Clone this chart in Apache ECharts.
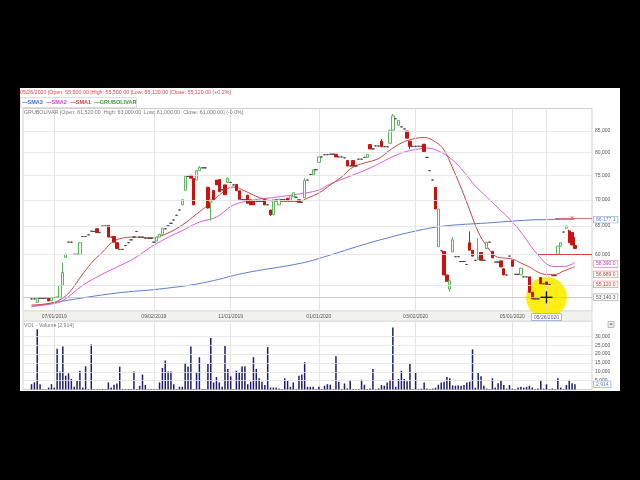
<!DOCTYPE html>
<html><head><meta charset="utf-8">
<script src="https://cdn.jsdelivr.net/npm/echarts@6/dist/echarts.min.js"></script>
<style>html,body{margin:0;padding:0;background:#000}#c{width:640px;height:480px}</style>
</head><body><div id="c"></div>
<script>
// ---------- data ----------
const dates = [
'06/18/2019','06/19/2019','06/20/2019','06/21/2019','06/25/2019','06/26/2019','06/27/2019','06/28/2019',
'07/01/2019',
'07/02/2019','07/03/2019','07/08/2019','07/09/2019','07/10/2019','07/11/2019','07/15/2019','07/16/2019','07/17/2019','07/18/2019','07/22/2019','07/23/2019','07/25/2019','07/29/2019','07/30/2019','07/31/2019',
'08/01/2019','08/05/2019','08/06/2019','08/07/2019','08/08/2019','08/12/2019','08/13/2019','08/14/2019','08/15/2019','08/19/2019','08/20/2019','08/21/2019','08/22/2019','08/26/2019','08/27/2019','08/28/2019','08/29/2019','08/30/2019',
'09/02/2019',
'09/03/2019','09/05/2019','09/09/2019','09/11/2019','09/13/2019','09/17/2019','09/19/2019','09/23/2019','09/25/2019','09/27/2019','09/30/2019',
'10/01/2019','10/03/2019','10/07/2019','10/09/2019','10/11/2019','10/15/2019','10/17/2019','10/21/2019','10/22/2019','10/23/2019','10/24/2019','10/25/2019','10/28/2019','10/29/2019','10/30/2019',
'11/01/2019',
'11/04/2019','11/05/2019','11/06/2019','11/07/2019','11/08/2019','11/11/2019','11/12/2019','11/13/2019','11/14/2019','11/15/2019','11/18/2019','11/19/2019','11/20/2019','11/21/2019','11/22/2019','11/25/2019','11/26/2019','11/27/2019',
'12/02/2019','12/03/2019','12/05/2019','12/09/2019','12/10/2019','12/12/2019','12/16/2019','12/17/2019','12/19/2019','12/20/2019','12/26/2019','12/30/2019',
'01/01/2020',
'01/02/2020','01/03/2020','01/06/2020','01/07/2020','01/08/2020','01/09/2020','01/13/2020','01/14/2020','01/15/2020','01/16/2020','01/20/2020','01/21/2020','01/22/2020','01/23/2020','01/27/2020','01/28/2020','01/29/2020','01/30/2020',
'02/03/2020','02/04/2020','02/05/2020','02/06/2020','02/07/2020','02/10/2020','02/11/2020','02/12/2020','02/13/2020','02/14/2020','02/17/2020','02/18/2020','02/19/2020','02/20/2020','02/26/2020',
'03/02/2020',
'03/03/2020','03/04/2020','03/05/2020','03/06/2020','03/09/2020','03/10/2020','03/11/2020','03/12/2020','03/13/2020','03/16/2020','03/17/2020','03/18/2020','03/19/2020','03/20/2020','03/23/2020','03/24/2020','03/25/2020','03/26/2020','03/27/2020','03/30/2020',
'04/01/2020','04/03/2020','04/07/2020','04/13/2020','04/15/2020','04/17/2020','04/20/2020','04/22/2020','04/24/2020','04/27/2020','04/28/2020','04/29/2020','04/30/2020',
'05/01/2020',
'05/04/2020','05/05/2020','05/07/2020','05/08/2020','05/11/2020','05/12/2020','05/14/2020','05/15/2020','05/18/2020','05/20/2020','05/22/2020',
'05/26/2020',
'05/27/2020','05/28/2020','05/29/2020','06/01/2020','06/02/2020','06/03/2020','06/04/2020','06/05/2020','06/08/2020','06/09/2020'
];

// each bar: a single number = flat bar (open=close=low=high), or [open, close, low, high]
const candles = [
52900,52900,[52400,53000,52300,53100],53000,53000,53000,[53000,52600,52600,53000],[52600,53100,52600,53100],53100,[53100,53200,53100,53200],
[53150,54960,53100,55000],[55000,57000,55000,58600],[59500,60000,59400,60100],62100,62100,60000,60000,[60000,62000,60000,62100],63100,63100,
63400,64050,64000,[64500,63800,63800,64500],63800,65000,65000,[65100,63000,63000,65100],63000,[63100,62100,62100,63100],
[62000,61000,61000,62000],60850,60850,61500,62000,62500,63000,64000,63000,63000,
62800,62800,62800,62100,[62300,63000,62300,63000],[63000,63500,63000,63500],[63500,64600,63500,64600],64500,65000,65500,
66100,67000,68000,[69000,70000,69000,70000],[71900,74800,71900,75000],74800,[75000,74400,74400,75000],[74300,69000,69000,74300],[74000,76000,74000,76000],[76000,76700,76000,77000],
76600,76600,[72500,68400,68300,72600],[69500,70000,66000,70000],[71900,70000,70000,71900],[74000,73000,73000,74000],[74100,71600,71600,74200],72000,[73000,71000,71000,73000],[73500,74400,73500,74400],
73500,73000,[73100,71800,71800,73100],[71800,70100,70100,71800],70000,70000,[70900,69300,69300,70900],[70000,69000,69000,70000],[69800,69000,69000,69800],69700,
69700,69700,[70000,69000,69000,70000],69000,[68000,67100,66900,68000],[67100,70000,67000,70000],70000,[69000,70100,69000,70100],70000,70000,
[70300,69900,69900,70300],[69900,70800,69900,70800],[70600,71400,70600,71400],70500,[70000,69500,69500,70000],69500,[70400,73900,70400,74400],74000,75200,[75100,76200,75100,76200],
76200,[77800,79000,77800,79000],79000,79500,79500,79600,79600,[79600,79000,79000,79600],79000,79000,
78800,[78200,77000,77000,78200],77000,[78200,77000,77000,78200],77000,78500,78500,78900,[78900,79600,78900,79600],[81800,80800,80800,81800],
80800,81500,81500,[82600,81300,81300,83100],81300,81300,[82100,85200,82100,85200],[85200,88700,85200,89200],88000,[86400,87600,86400,87600],
86000,85500,[85000,83300,83300,85000],[82600,81400,80800,82600],81400,81400,81400,81400,[81900,80200,80200,81900],78900,
76000,74000,[72500,68200,68200,72500],[61300,68200,61300,68200],60600,[60500,56600,56600,60500],[56600,55600,55600,56600],[54400,55700,54000,55700],[60400,62500,60400,63000],59600,
59600,58800,58800,58300,[62000,60700,60700,64000],[60700,59700,59700,60700],59000,[59200,59500,59000,62800],[60300,59000,59000,60300],59000,
[61000,62100,61000,62100],62100,[60500,59400,59400,60500],58700,58700,[58900,57900,57900,58900],[57600,56600,56600,57600],56600,59700,[59000,58000,58000,59000],
56700,56700,[56600,57700,56600,57700],56300,56300,[56300,53900,53900,56300],[53900,52900,52900,53900],52900,52900,[56200,55200,55200,56200],
55200,[55500,55120,55120,55500],55120,56500,56500,[60000,61400,60000,61400],[61400,62000,61400,62000],63900,[64600,65000,64600,65000],[64100,62000,62000,64300],
[63800,61600,61600,63800],[61520,61000,61000,63000]
];

const volumes = [
3000,4000,34000,3000,300,200,1100,3000,1100,22900,
10200,24300,7800,9100,5900,1500,4900,10600,1100,13100,
300,25400,300,300,300,300,300,4000,1100,2700,
3400,12900,300,300,300,300,10200,300,2100,8400,
2500,300,300,300,300,4000,12100,16300,10200,10200,
3000,300,1500,1500,15000,12900,24300,300,9700,18200,
300,300,14400,29000,4000,7000,
4000,1500,24500,11600,7400,300,10600,9700,12900,13100,
3000,4400,18200,11600,6300,4400,2500,23900,1100,1100,
1100,600,300,6300,4900,1500,4000,300,7800,8400,
15400,1500,1500,1500,300,1500,300,2100,3000,2700,
300,18800,4400,300,3400,600,4900,300,300,300,
5500,2700,300,600,11600,300,600,2500,2100,4000,
5500,34900,1500,5900,10600,5900,4600,14400,300,
9300,300,500,4000,500,300,500,1000,2700,4000,
4400,7000,6300,2300,2100,2300,2100,2500,4000,4400,
22600,1000,9300,7400,2100,500,300,6300,1100,3500,
5100,2500,500,2500,500,300,1100,1500,1100,1500,
2100,1100,300,500,5100,500,2914,300,500,300,
6400,1100,300,2500,5100,3500,3000
];

// moving averages read at sample bars: [barIndex, value]
const sma1Pts = [[0,52000],[7,52290],[11,53030],[14,54250],[18,56760],[22,59040],[25,60390],[28,61950],[31,62700],[36,62990],[42,62830],[47,63500],[53,65180],[58,67240],[62,68970],[65,70440],[69,72250],[71,72570],[75,71750],[80,70440],[85,69750],[90,69650],[94,69650],[97,70340],[101,71350],[105,72980],[109,74640],[113,76780],[117,77660],[122,78650],[126,80550],[130,82170],[134,83100],[138,83450],[142,82400],[145,80550],[148,76570],[151,72360],[154,68000],[157,63900],[160,61420],[163,59710],[166,59380],[169,59200],[172,58540],[175,57880],[178,57070],[181,56689],[184,56690],[187,57240],[191,57960]];
const sma2Pts = [[0,51850],[7,52140],[11,52660],[18,54960],[25,56760],[30,57880],[36,59290],[42,61250],[47,62700],[53,64170],[59,65730],[65,66650],[71,68970],[78,69950],[85,70440],[94,71150],[101,71950],[105,73200],[112,74840],[119,76570],[126,78760],[131,80100],[136,80780],[139,81010],[143,80320],[148,78320],[152,75700],[156,72770],[160,70540],[164,68380],[168,66290],[172,63900],[176,61080],[179,59380],[181,58390],[184,57960],[187,57960],[191,58620]];
const sma3Pts = [[0,51700],[10,52500],[30,53790],[45,54400],[60,55330],[75,56920],[95,58540],[105,59880],[115,61420],[125,62830],[135,64080],[145,64990],[160,65550],[175,66100],[181,66177.1],[191,66250]];

const tickLabels = ['07/01/2019','09/02/2019','11/01/2019','01/01/2020','03/02/2020','05/01/2020','05/26/2020'];
const priceTicks = [55000,60000,65000,70000,75000,80000,85000];
const volTicks = [5000,10000,15000,20000,25000,30000];

// ---------- build ----------
const FF = '"Liberation Sans", Arial, sans-serif';
const PADL = 3, PADR = 6;
const cats = [];
for (let i = 0; i < PADL; i++) cats.push('padL' + i);
dates.forEach(d => cats.push(d));
for (let i = 0; i < PADR; i++) cats.push('padR' + i);
const ci = b => b + PADL;
const ohlc = candles.map(c => typeof c === 'number' ? [c, c, c, c] : c);
const candleData = cats.map((_, i) => { const b = i - PADL; return (b >= 0 && b < ohlc.length) ? ohlc[b] : ['-','-','-','-']; });
const volData = cats.map((_, i) => { const b = i - PADL; return (b >= 0 && b < volumes.length) ? volumes[b] : '-'; });
const tickIdx = new Set(tickLabels.map(t => cats.indexOf(t)));
const fmt = v => v.toLocaleString('en-US');
const crossDate = '05/26/2020';
const crossIdx = cats.indexOf(crossDate);
const CLEAR = 'rgba(255,255,255,0)';

const tag = (v, text, color, border) => ({
  yAxis: v, lineStyle: {color: CLEAR, width: 0.1},
  label: {show: true, position: 'end', distance: 2, formatter: text, color: color, fontSize: 5, fontFamily: FF,
          backgroundColor: '#fff', borderColor: border, borderWidth: 0.7, padding: [1, 2, 0, 2], opacity: 1}
});

const priceGrid = priceTicks.map(v => ({
  yAxis: v,
  label: {show: v !== 55000, position: 'end', distance: 3, formatter: fmt(v), color: '#555', fontSize: 5, fontFamily: FF}
}));

const option = {
  backgroundColor: '#fff',
  animation: false,
  textStyle: {fontFamily: FF},
  grid: [
    {left: 23, right: 48, top: 108.5, height: 202.5, show: true, backgroundColor: '#fff', borderColor: '#c4c4c4', borderWidth: 0.8},
    {left: 23, right: 48, top: 321, height: 68.5, show: true, backgroundColor: '#fff', borderColor: '#c4c4c4', borderWidth: 0.8}
  ],
  xAxis: [
    {type: 'category', gridIndex: 0, data: cats, boundaryGap: false, z: 3,
     axisLine: {show: false}, axisTick: {show: false},
     axisLabel: {interval: (i) => tickIdx.has(i), margin: 3, fontSize: 5, color: '#555',
       formatter: v => v === crossDate ? '{hl|' + v + '}' : v,
       rich: {hl: {fontSize: 5, color: '#557', backgroundColor: '#fff', borderColor: '#8fa8cc', borderWidth: 0.7, padding: [1, 2, 0, 2]}}},
     splitLine: {show: true, interval: (i) => tickIdx.has(i), lineStyle: {color: '#dcdcdc', width: 0.8}}},
    {type: 'category', gridIndex: 1, data: cats, boundaryGap: false,
     axisLine: {show: false}, axisTick: {show: false}, axisLabel: {show: false},
     splitLine: {show: true, interval: (i) => tickIdx.has(i), lineStyle: {color: '#dcdcdc', width: 0.8}}}
  ],
  yAxis: [
    {type: 'log', gridIndex: 0, position: 'right', min: 51125, max: 90580,
     axisLine: {show: false}, axisTick: {show: false}, axisLabel: {show: false}, splitLine: {show: false}},
    {type: 'value', gridIndex: 1, position: 'right', min: 0, max: 38600,
     axisLine: {show: false}, axisTick: {show: false}, axisLabel: {show: false}, splitLine: {show: false}}
  ],
  series: [
    {name: 'grid', type: 'line', xAxisIndex: 0, yAxisIndex: 0, data: [], z: 1, silent: true,
     markLine: {symbol: ['none', 'none'], silent: true, animation: false,
       lineStyle: {color: '#e2e2e2', width: 0.8, type: 'solid'},
       data: priceGrid.concat([
         {yAxis: 53140.3, lineStyle: {color: '#c0c0c0', width: 0.8, type: 'solid'},
          label: {show: true, position: 'end', distance: 2, formatter: '53,140.3', color: '#555', fontSize: 5, fontFamily: FF,
                  backgroundColor: '#fff', borderColor: '#aaa', borderWidth: 0.7, padding: [1, 2, 0, 2]}}
       ])}},
    {name: 'tags', type: 'line', xAxisIndex: 0, yAxisIndex: 0, data: [], z: 4, silent: true,
     markLine: {symbol: ['none', 'none'], silent: true, animation: false,
       lineStyle: {color: CLEAR, width: 0.1, type: 'solid'},
       data: [
         tag(66177.1, '66,177.1', '#5577bb', '#8fa8dd'),
         tag(58390, '58,390.0', '#b040b0', '#d88ad8'),
         tag(56689, '56,689.0', '#c03c3c', '#e08a8a'),
         tag(55120, '55,120.0', '#c03c3c', '#e08a8a')
       ]}},
    {name: 'SMA3', type: 'line', xAxisIndex: 0, yAxisIndex: 0, data: sma3Pts.map(p => [ci(p[0]), p[1]]),
     showSymbol: false, smooth: 0.4, lineStyle: {color: '#5b7fd0', width: 1}, itemStyle: {color: '#5b7fd0'}, z: 2},
    {name: 'SMA2', type: 'line', xAxisIndex: 0, yAxisIndex: 0, data: sma2Pts.map(p => [ci(p[0]), p[1]]),
     showSymbol: false, smooth: 0.4, lineStyle: {color: '#dd5cdd', width: 1}, itemStyle: {color: '#dd5cdd'}, z: 2},
    {name: 'SMA1', type: 'line', xAxisIndex: 0, yAxisIndex: 0, data: sma1Pts.map(p => [ci(p[0]), p[1]]),
     showSymbol: false, smooth: 0.4, lineStyle: {color: '#c84848', width: 1}, itemStyle: {color: '#c84848'}, z: 2},
    {name: 'GRUBOLIVAR', type: 'candlestick', xAxisIndex: 0, yAxisIndex: 0, data: candleData, barWidth: 2.8, z: 3,
     itemStyle: {color: '#f2faf2', color0: '#cc1111', borderColor: '#5cb85c', borderColor0: '#cc1111', borderColorDoji: '#444', borderWidth: 1},
     markLine: {symbol: ['none', 'none'], silent: true, animation: false,
       lineStyle: {type: 'solid'},
       data: [
         [{coord: [ci(178), 60000], lineStyle: {color: '#d04545', width: 1, type: 'solid'}}, {coord: [cats.length - 1, 60000]}],
         [{coord: [ci(184), 66400], lineStyle: {color: '#d87070', width: 1, type: 'solid'}}, {coord: [cats.length - 1, 66400]}]
       ]},
     markPoint: {silent: true, animation: false, symbol: 'circle', symbolSize: 0,
       data: [{coord: [ci(190), 66600], label: {show: true, formatter: '×', color: '#c44', fontSize: 8, fontFamily: FF}}]}},
    {name: 'VOL', type: 'bar', xAxisIndex: 1, yAxisIndex: 1, data: volData, barWidth: 1.5, z: 3,
     itemStyle: {color: '#1c1c72'},
     markLine: {symbol: ['none', 'none'], silent: true, animation: false,
       lineStyle: {color: '#e2e2e2', width: 0.8, type: 'solid'},
       data: volTicks.map(v => ({yAxis: v, label: {show: true, position: 'end', distance: 3, formatter: fmt(v), color: '#555', fontSize: 5, fontFamily: FF}}))
         .concat([{yAxis: 2914, lineStyle: {color: CLEAR, width: 0.1},
           label: {show: true, position: 'end', distance: 2, formatter: '2,914', color: '#5577bb', fontSize: 5, fontFamily: FF,
                   backgroundColor: '#fff', borderColor: '#8fa8dd', borderWidth: 0.7, padding: [1, 2, 0, 2]}}])}}
  ],
  graphic: [
    {id: 'strip', type: 'rect', silent: true, z: 0, shape: {x: 23, y: 311, width: 569, height: 10},
     style: {fill: '#f2f2ec', stroke: '#d0d0d0', lineWidth: 0.6}},
    {id: 'h1', type: 'text', silent: true, z: 5, x: 20, y: 93,
     style: {text: '05/26/2020 |Open: 55,500.00 |High: 55,500.00 |Low: 55,120.00 |Close: 55,120.00 (+0.2%)',
             fill: '#d84848', fontSize: 5.3, fontFamily: FF, verticalAlign: 'middle', textVerticalAlign: 'middle'}},
    {id: 'lgbox', type: 'rect', silent: true, z: 5, shape: {x: 20.5, y: 97.5, width: 116, height: 10},
     style: {fill: '#fff', stroke: '#c8c8c8', lineWidth: 0.6}},
    {id: 'lg', type: 'text', silent: true, z: 6, x: 22, y: 102.8,
     style: {text: '{b|—SMA3} {m|—SMA2} {r|—SMA1} {g|—GRUBOLIVAR}', verticalAlign: 'middle', textVerticalAlign: 'middle',
             rich: {b: {fill: '#3a6fd8', fontSize: 5.5, fontWeight: 'bold', fontFamily: FF},
                    m: {fill: '#d040d0', fontSize: 5.5, fontWeight: 'bold', fontFamily: FF},
                    r: {fill: '#d03a3a', fontSize: 5.5, fontWeight: 'bold', fontFamily: FF},
                    g: {fill: '#3a9a3a', fontSize: 5.5, fontWeight: 'bold', fontFamily: FF}}}},
    {id: 'h3', type: 'text', silent: true, z: 5, x: 24, y: 112.5,
     style: {text: 'GRUBOLIVAR [Open: 61,520.00  High: 63,000.00  Low: 61,000.00  Close: 61,000.00] (-0.0%)',
             fill: '#777', fontSize: 5.3, fontFamily: FF, verticalAlign: 'middle', textVerticalAlign: 'middle'}},
    {id: 'vlab', type: 'text', silent: true, z: 5, x: 24, y: 325.5,
     style: {text: 'VOL - Volume [2,914]', fill: '#777', fontSize: 5.2, fontFamily: FF, verticalAlign: 'middle', textVerticalAlign: 'middle'}},
    {id: 'xbox', type: 'rect', silent: true, z: 5, shape: {x: 608, y: 321.5, width: 6, height: 6},
     style: {fill: '#eee', stroke: '#999', lineWidth: 0.6}},
    {id: 'xbox2', type: 'text', silent: true, z: 6, x: 611, y: 324.7,
     style: {text: '×', fill: '#555', fontSize: 6, fontFamily: FF, align: 'center', textAlign: 'center', verticalAlign: 'middle', textVerticalAlign: 'middle'}},
    {id: 'f1', type: 'rect', silent: true, z: 100, shape: {x: 0, y: 0, width: 640, height: 88}, style: {fill: '#000'}},
    {id: 'f2', type: 'rect', silent: true, z: 100, shape: {x: 0, y: 391, width: 640, height: 89}, style: {fill: '#000'}},
    {id: 'f3', type: 'rect', silent: true, z: 100, shape: {x: 0, y: 88, width: 20, height: 303}, style: {fill: '#000'}},
    {id: 'f4', type: 'rect', silent: true, z: 100, shape: {x: 620, y: 88, width: 20, height: 303}, style: {fill: '#000'}}
  ]
};

const chart = echarts.init(document.getElementById('c'), null, {width: 640, height: 480});
chart.setOption(option);

// cursor highlight placed at the crosshair date / price
const cp = chart.convertToPixel({xAxisIndex: 0, yAxisIndex: 0}, [crossIdx, 53140.3]);
chart.setOption({graphic: [
  {id: 'ycirc', type: 'circle', silent: true, z: 1.5, shape: {cx: cp[0], cy: cp[1], r: 20.5}, style: {fill: 'rgba(255,236,0,0.92)'}},
  {id: 'cur1', type: 'line', silent: true, z: 50, shape: {x1: cp[0] - 6, y1: cp[1], x2: cp[0] + 6, y2: cp[1]}, style: {stroke: '#111', lineWidth: 1.4}},
  {id: 'cur2', type: 'line', silent: true, z: 50, shape: {x1: cp[0], y1: cp[1] - 6, x2: cp[0], y2: cp[1] + 6}, style: {stroke: '#111', lineWidth: 1.4}}
]});
</script>
</body></html>
